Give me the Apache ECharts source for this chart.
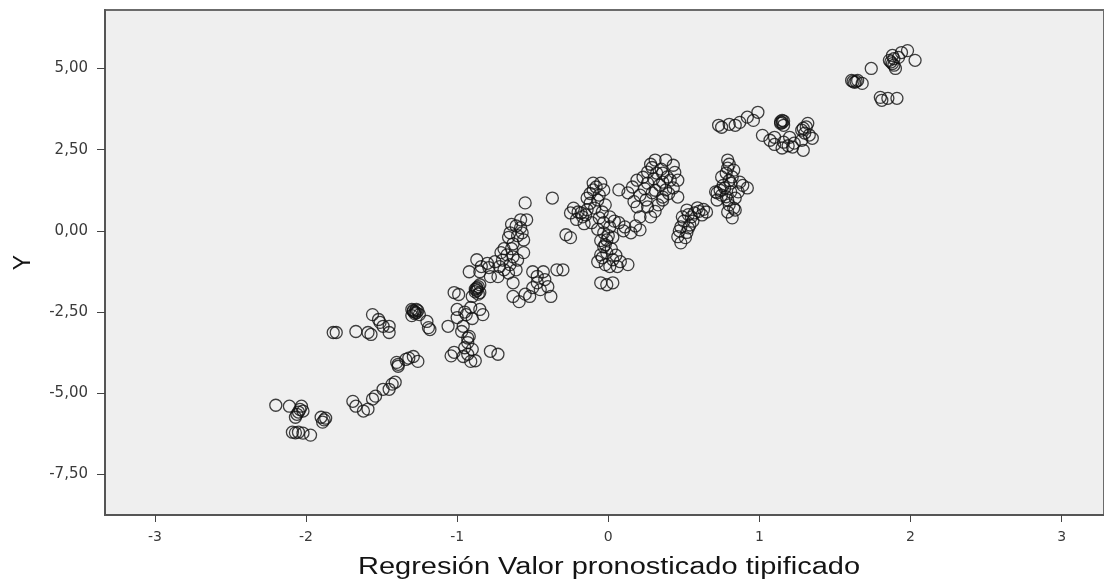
<!DOCTYPE html>
<html>
<head>
<meta charset="utf-8">
<script src="https://cdn.jsdelivr.net/npm/echarts@6/dist/echarts.min.js"></script>
<style>
  html, body { margin: 0; padding: 0; background: #fff; }
  #chart { width: 1104px; height: 586px; }
</style>
</head>
<body>
<div id="chart"></div>
<script>
// tick values for both axes
var xTicks = [-3, -2, -1, 0, 1, 2, 3];
var yTicks = [-7.5, -5, -2.5, 0, 2.5, 5];
var xTitle = 'Regresión Valor pronosticado tipificado';
var yTitle = 'Y';

// points, grouped by cluster: [pronosticado, Y]
var lowerLeft = [
  [-2.20, -5.37], [-2.11, -5.40], [-2.03, -5.40], [-2.02, -5.55], [-2.05, -5.58],
  [-2.07, -5.74], [-2.09, -6.20], [-2.05, -6.20], [-2.02, -6.23], [-1.97, -6.29],
  [-1.90, -5.74], [-1.89, -5.89], [-1.87, -5.77], [-2.04, -5.50], [-2.06, -5.65],
  [-2.07, -6.22], [-1.88, -5.82],
  [-1.69, -5.25], [-1.67, -5.40], [-1.62, -5.55], [-1.59, -5.49], [-1.54, -5.09],
  [-1.56, -5.18], [-1.49, -4.88], [-1.45, -4.88], [-1.43, -4.72], [-1.41, -4.66],
  [-1.39, -4.17], [-1.39, -4.11], [-1.34, -3.96], [-1.29, -3.87], [-1.26, -4.02],
  [-1.40, -4.05], [-1.32, -3.92]
];
var leftGroup = [
  [-1.80, -3.13], [-1.82, -3.13], [-1.67, -3.10], [-1.57, -3.19], [-1.59, -3.13],
  [-1.56, -2.58], [-1.52, -2.73], [-1.49, -2.94], [-1.45, -2.94], [-1.45, -3.13],
  [-1.51, -2.82],
  [-1.29, -2.48], [-1.27, -2.52], [-1.25, -2.58], [-1.30, -2.42], [-1.27, -2.42],
  [-1.30, -2.61], [-1.28, -2.50], [-1.26, -2.46], [-1.28, -2.55], [-1.29, -2.45],
  [-1.20, -2.79], [-1.19, -2.98], [-1.18, -3.04]
];
var midLeft = [
  [-0.55, 0.86], [-0.37, 1.01], [-0.58, 0.34], [-0.54, 0.34], [-0.65, -0.06],
  [-0.57, -0.06], [-0.56, -0.28], [-0.28, -0.12], [-0.25, -0.21], [-0.18, 0.55],
  [-0.15, 0.49], [-0.64, 0.20], [-0.58, 0.10], [-0.60, -0.15],
  [-0.71, -0.67], [-0.67, -0.74], [-0.63, -0.80], [-0.56, -0.67], [-0.65, -1.04],
  [-0.61, -1.20], [-0.69, -1.20], [-0.73, -1.41], [-0.63, -1.60], [-0.69, -0.55],
  [-0.63, -0.40], [-0.66, -0.20], [-0.61, 0.15], [-0.64, -0.55],
  [-0.87, -0.89], [-0.92, -1.26], [-0.85, -1.26], [-0.79, -1.13], [-0.78, -1.41],
  [-0.80, -1.00], [-0.75, -0.95], [-0.70, -0.90], [-0.60, -0.90], [-0.72, -1.10],
  [-0.66, -1.30], [-0.84, -1.10],
  [-0.87, -1.75], [-0.85, -1.90], [-0.90, -2.02], [-0.87, -1.84], [-0.85, -1.66],
  [-0.88, -1.80], [-0.86, -1.95], [-0.87, -1.78], [-0.86, -1.72], [-0.88, -1.88],
  [-0.99, -1.96], [-1.02, -1.90],
  [-0.50, -1.26], [-0.43, -1.26], [-0.34, -1.20], [-0.47, -1.60], [-0.40, -1.72],
  [-0.38, -2.02], [-0.52, -2.02], [-0.63, -2.02], [-0.59, -2.18], [-0.45, -1.81],
  [-0.47, -1.40], [-0.42, -1.50], [-0.50, -1.75], [-0.55, -1.95],
  [-1.00, -2.42], [-0.91, -2.36], [-0.85, -2.42], [-0.94, -2.58], [-0.83, -2.58],
  [-1.00, -2.67], [-1.06, -2.94], [-0.96, -2.94], [-0.92, -3.25], [-0.93, -3.44],
  [-0.90, -3.65], [-1.02, -3.74], [-0.96, -3.87], [-0.91, -4.02], [-0.78, -3.71],
  [-0.73, -3.80], [-0.95, -2.50], [-0.90, -2.70], [-0.97, -3.10], [-0.93, -3.30],
  [-0.95, -3.60], [-0.93, -3.80], [-0.88, -4.00], [-1.04, -3.85]
];
var centre = [
  [-0.30, -1.20],
  [-0.10, 1.47], [-0.05, 1.47], [-0.10, 1.26], [-0.03, 1.26], [-0.14, 1.01],
  [-0.07, 0.95], [-0.02, 0.80], [-0.20, 0.58], [-0.17, 0.43], [-0.11, 0.25],
  [-0.04, 0.58], [0.01, 0.43], [-0.03, 0.25], [0.01, 0.12], [0.07, 0.25],
  [0.11, 0.12], [0.21, 0.03], [0.15, -0.06], [-0.03, -0.06], [-0.01, -0.28],
  [-0.03, -0.49], [-0.01, -0.67], [-0.04, -0.83], [-0.02, -1.04], [0.03, -0.89],
  [0.06, -1.10], [0.13, -1.04], [0.01, -1.10], [-0.02, -0.43], [-0.05, -0.74],
  [0.00, -0.15],
  [-0.08, 1.35], [-0.06, 1.10], [-0.12, 0.85], [-0.09, 0.70], [-0.06, 0.40],
  [0.04, 0.30], [-0.07, 0.05], [0.03, -0.20], [-0.05, -0.30], [0.02, -0.55],
  [-0.07, -0.95], [0.08, -0.95], [0.05, -0.75], [-0.14, 0.65], [0.10, 0.00],
  [0.18, 0.15], [-0.12, 1.15],
  [-0.23, 0.70], [-0.25, 0.55], [-0.21, 0.35], [-0.16, 0.22],
  [-0.05, -1.60], [-0.01, -1.66], [0.03, -1.60]
];
var centreHigh = [
  [0.31, 2.18], [0.38, 2.18], [0.43, 2.02], [0.26, 1.81], [0.32, 1.78],
  [0.39, 1.66], [0.46, 1.56], [0.19, 1.56], [0.26, 1.47], [0.34, 1.41],
  [0.43, 1.32], [0.13, 1.17], [0.21, 1.10], [0.29, 1.17], [0.36, 1.04],
  [0.46, 1.04], [0.19, 0.74], [0.26, 0.74], [0.33, 0.80], [0.21, 0.43],
  [0.28, 0.43], [0.07, 1.26], [0.36, 1.78], [0.38, 1.26], [0.36, 0.95],
  [0.41, 1.56],
  [0.29, 1.95], [0.35, 1.90], [0.23, 1.65], [0.30, 1.60], [0.36, 1.50],
  [0.16, 1.35], [0.24, 1.30], [0.31, 1.25], [0.40, 1.15], [0.25, 0.95],
  [0.31, 0.60], [0.17, 0.90], [0.44, 1.80], [0.28, 2.05]
];
var right = [
  [0.52, 0.64], [0.59, 0.71], [0.65, 0.58], [0.49, 0.43], [0.55, 0.43],
  [0.62, 0.49], [0.48, 0.12], [0.54, 0.18], [0.46, -0.18], [0.51, -0.21],
  [0.48, -0.37], [0.53, 0.09], [0.50, 0.30], [0.57, 0.55], [0.53, 0.50],
  [0.60, 0.60], [0.47, 0.00], [0.52, -0.05], [0.56, 0.30], [0.63, 0.66],
  [0.79, 2.18], [0.79, 1.93], [0.75, 1.66], [0.82, 1.66], [0.81, 1.47],
  [0.87, 1.50], [0.92, 1.32], [0.71, 1.20], [0.75, 1.10], [0.81, 1.20],
  [0.72, 0.95], [0.79, 0.95], [0.84, 1.01], [0.79, 0.58], [0.84, 0.64],
  [0.82, 0.40], [0.77, 1.32], [0.83, 1.87], [0.72, 1.17],
  [0.80, 2.05], [0.78, 1.78], [0.80, 1.55], [0.76, 1.40], [0.74, 1.25],
  [0.78, 1.05], [0.86, 1.20], [0.80, 0.80], [0.83, 0.70], [0.89, 1.40]
];
var upperRight = [
  [0.75, 3.19], [0.73, 3.25], [0.84, 3.25], [0.87, 3.34], [0.92, 3.50],
  [0.99, 3.65], [0.96, 3.40], [0.80, 3.28],
  [1.15, 3.40], [1.16, 3.25], [1.14, 3.31], [1.15, 3.33], [1.16, 3.38],
  [1.14, 3.36], [1.02, 2.94], [1.10, 2.88], [1.16, 2.73], [1.15, 2.55],
  [1.22, 2.58], [1.29, 2.48], [1.23, 2.70], [1.19, 2.62], [1.10, 2.66],
  [1.29, 3.16], [1.32, 3.31], [1.30, 3.01], [1.35, 2.85], [1.28, 2.79],
  [1.20, 2.88], [1.07, 2.79], [1.31, 3.20], [1.28, 3.10], [1.33, 2.95]
];
var topRight = [
  [1.61, 4.63], [1.65, 4.63], [1.68, 4.54], [1.63, 4.57], [1.62, 4.60],
  [1.64, 4.60], [1.74, 5.00],
  [1.88, 5.40], [1.88, 5.15], [1.90, 5.00], [1.86, 5.25], [1.92, 5.34],
  [1.98, 5.55], [2.03, 5.25], [1.94, 5.49], [1.89, 5.10], [1.87, 5.20],
  [1.89, 5.30],
  [1.80, 4.11], [1.85, 4.08], [1.91, 4.08], [1.81, 4.02]
];

var points = [].concat(lowerLeft, leftGroup, midLeft, centre, centreHigh, right, upperRight, topRight);

function commaFmt(v) {
  return v.toFixed(2).replace('.', ',');
}

var font = 'Liberation Sans, Arial, sans-serif';
var tickFont = 'DejaVu Sans, sans-serif';
var chart = echarts.init(document.getElementById('chart'), null, { renderer: 'canvas' });

chart.setOption({
  animation: false,
  backgroundColor: '#ffffff',
  grid: {
    left: 105, top: 10, right: -3, bottom: 71,
    show: true,
    backgroundColor: '#efefef',
    borderColor: '#6b6b6b',
    borderWidth: 2
  },
  // axis titles drawn as text so they can be widened like the original
  graphic: [{
    type: 'text',
    x: 609, y: 568,
    scaleX: 1.26,
    style: {
      text: xTitle,
      font: '23px ' + font,
      fill: '#141414',
      textAlign: 'center',
      textVerticalAlign: 'middle'
    }
  }],
  xAxis: {
    type: 'value',
    min: -3.33, max: 3.28,
    axisLine: { show: true, onZero: false, lineStyle: { color: '#555', width: 2 } },
    axisTick: { show: true, length: 7, customValues: xTicks, lineStyle: { color: '#444', width: 1 } },
    axisLabel: { customValues: xTicks, margin: 15, fontFamily: tickFont, fontSize: 14, color: '#3a3a3a' },
    splitLine: { show: false }
  },
  yAxis: {
    type: 'value',
    min: -8.75, max: 6.8,
    name: yTitle,
    nameLocation: 'middle',
    nameGap: 70,
    nameTextStyle: { fontFamily: font, fontSize: 23, color: '#141414' },
    axisLine: { show: true, onZero: false, lineStyle: { color: '#555', width: 2 } },
    axisTick: { show: true, length: 8, customValues: yTicks, lineStyle: { color: '#444', width: 1 } },
    axisLabel: { customValues: yTicks, margin: 17, fontFamily: tickFont, fontSize: 15, color: '#3a3a3a',
      formatter: commaFmt },
    splitLine: { show: false }
  },
  series: [{
    type: 'scatter',
    data: points,
    symbol: 'circle',
    symbolSize: 12,
    itemStyle: { color: 'rgba(0,0,0,0)', borderColor: '#111', borderWidth: 1.3 }
  }]
});
</script>
</body>
</html>
